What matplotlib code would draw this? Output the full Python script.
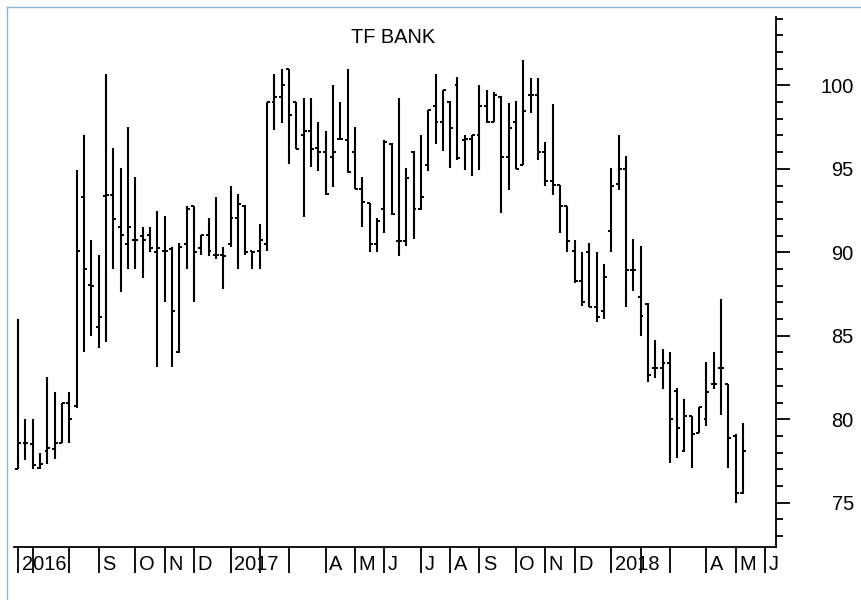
import matplotlib
matplotlib.use('Agg')
import matplotlib.pyplot as plt
from matplotlib.ticker import MultipleLocator
from matplotlib.transforms import blended_transform_factory, ScaledTranslation
from matplotlib.lines import Line2D

plt.rcParams['font.family'] = ['Liberation Sans', 'DejaVu Sans']

title = "TF BANK"

# weekly OHLC, index 0 = mid-June 2016 ... index 99 = mid-May 2018
opens = [77.0, 78.55, 78.5, 77.1, 78.1, 78.2, 78.6, 81.0, 80.8, 93.3,
         88.05, 85.5, 93.4, 93.45, 91.5, 90.5, 90.75, 91.0, 91.05, 90.0,
         90.05, 90.2, 84.0, 90.5, 92.8, 90.25, 91.05, 89.85, 89.85, 90.5,
         92.05, 92.8, 90.05, 90.05, 90.5, 99.0, 99.3, 101.0, 99.0, 97.0,
         97.25, 96.25, 96.0, 95.7, 96.8, 96.75, 96.0, 93.8, 92.95, 90.5,
         92.6, 96.5, 90.7, 90.7, 96.0, 92.6, 95.25, 98.75, 97.8, 99.0,
         100.0, 96.7, 96.8, 97.0, 98.75, 97.8, 99.3, 95.7, 97.8, 95.25,
         99.4, 99.45, 96.0, 94.25, 94.05, 92.8, 90.05, 88.3, 90.0, 86.7,
         86.5, 91.3, 94.1, 95.0, 88.95, 87.3, 86.9, 83.05, 83.05, 83.35,
         81.7, 78.1, 80.2, 79.15, 80.0, 82.1, 83.05, 82.1, 79.0, 75.6]
highs = [86.0, 80.0, 80.0, 78.0, 82.55, 81.65, 81.0, 81.65, 94.95, 97.05,
         90.75, 89.85, 100.7, 96.25, 95.05, 97.5, 94.5, 91.5, 91.5, 92.5,
         92.2, 90.3, 90.55, 92.75, 92.8, 91.05, 92.05, 93.3, 90.3, 93.95,
         93.5, 92.85, 90.05, 91.7, 99.0, 100.7, 101.0, 101.0, 99.0, 99.25,
         99.25, 97.8, 97.25, 100.0, 99.0, 101.0, 97.5, 94.5, 92.95, 92.05,
         96.7, 96.55, 99.25, 95.05, 96.05, 97.05, 98.5, 100.7, 99.7, 99.05,
         100.5, 97.0, 97.05, 100.0, 99.7, 99.6, 99.35, 98.95, 99.05, 101.5,
         100.45, 100.45, 96.6, 98.9, 94.05, 92.8, 90.75, 90.0, 90.55, 90.0,
         89.3, 95.05, 97.05, 95.8, 90.8, 90.4, 86.95, 84.75, 84.2, 84.0,
         81.85, 81.2, 80.2, 80.75, 83.45, 84.0, 87.2, 82.1, 79.1, 79.8]
lows = [77.0, 77.55, 77.0, 77.0, 77.3, 77.6, 78.55, 78.6, 80.7, 84.0,
        85.0, 84.25, 84.6, 89.0, 87.6, 89.0, 89.0, 88.45, 90.0, 83.15,
        87.0, 83.15, 83.95, 89.0, 87.0, 89.85, 89.75, 89.6, 87.8, 90.3,
        89.0, 89.85, 89.0, 89.0, 90.1, 97.3, 97.75, 95.3, 96.2, 92.1,
        95.1, 94.85, 93.45, 93.9, 96.75, 94.75, 93.8, 91.5, 90.0, 90.0,
        91.15, 92.25, 89.75, 90.35, 90.8, 92.55, 94.9, 96.5, 96.05, 95.05,
        95.55, 94.95, 94.55, 94.95, 97.75, 97.8, 92.35, 93.75, 95.0, 95.25,
        98.35, 95.55, 94.0, 93.45, 91.15, 90.0, 88.15, 86.8, 86.7, 85.8,
        86.0, 90.0, 93.75, 86.7, 87.7, 85.0, 82.25, 82.45, 81.8, 77.4,
        77.7, 78.05, 77.05, 79.15, 79.6, 81.8, 80.25, 77.05, 74.95, 75.5]
closes = [78.55, 78.55, 77.25, 77.3, 78.3, 78.6, 81.0, 80.0, 90.05, 89.0,
          88.0, 86.1, 93.45, 92.0, 91.05, 91.5, 90.75, 90.75, 90.25, 90.25,
          90.05, 86.5, 90.3, 92.6, 90.0, 91.05, 90.05, 89.85, 89.8, 92.05,
          92.9, 90.0, 90.0, 90.75, 99.0, 99.3, 100.0, 98.25, 96.2, 97.25,
          96.2, 96.0, 93.5, 96.0, 96.8, 94.8, 93.8, 93.0, 90.5, 91.9,
          96.6, 92.3, 90.7, 94.45, 92.6, 93.3, 98.5, 97.8, 99.7, 97.45,
          95.65, 96.8, 97.0, 98.75, 97.8, 99.4, 95.7, 97.45, 95.0, 98.45,
          99.4, 96.0, 94.25, 94.05, 92.8, 90.7, 88.3, 87.0, 86.7, 86.1,
          88.5, 94.0, 95.0, 88.95, 88.95, 86.2, 82.65, 83.05, 83.35, 80.0,
          79.45, 80.2, 79.1, 80.75, 81.65, 82.1, 83.05, 78.9, 75.6, 78.1]

# first weekly bar of each month and its label
month_starts = [0, 2, 7, 11, 16, 20, 24, 29, 33, 37, 42, 46, 50, 55, 59,
                63, 68, 72, 76, 81, 85, 89, 94, 98, 102]
month_labels = ['2016', '', '', 'S', 'O', 'N', 'D', '2017', '', '', 'A', 'M',
                'J', 'J', 'A', 'S', 'O', 'N', 'D', '2018', '', '', 'A', 'M', 'J']
y_major = [75, 80, 85, 90, 95, 100]

W, H = 861, 600
fig = plt.figure(figsize=(W / 100, H / 100), dpi=100)
fig.patch.set_facecolor('white')
ax = fig.add_axes([14 / W, (H - 546.7) / H, (776 - 14) / W, (546.7 - 17) / H])

xs = list(range(len(opens)))
tick_w = 0.4
ax.vlines(xs, lows, highs, colors='black', lw=1.5, capstyle='butt')
ax.hlines(opens, [x - tick_w for x in xs], xs, colors='black', lw=1.4)
ax.hlines(closes, xs, [x + tick_w for x in xs], colors='black', lw=1.4)

ax.set_xlim(-0.57, 103.5)
ax.set_ylim(72.36, 104.1)

for s in ['left', 'top']:
    ax.spines[s].set_visible(False)
for s in ['right', 'bottom']:
    ax.spines[s].set_linewidth(1.3)
    ax.spines[s].set_color('black')

ax.yaxis.tick_right()
ax.set_yticks(y_major)
ax.set_yticklabels([str(v) for v in y_major])
ax.yaxis.set_minor_locator(MultipleLocator(1))
ax.tick_params(axis='y', which='major', length=10, width=1.3, pad=46,
               labelsize=14.4, colors='black')
ax.tick_params(axis='y', which='minor', length=5, width=1.3)
plt.setp(ax.get_yticklabels(), ha='right')

ax.set_xticks(month_starts)
ax.set_xticklabels([])
ax.tick_params(axis='x', which='major', length=19, width=1.3, direction='out')

trans = blended_transform_factory(ax.transData, ax.transAxes) + \
    ScaledTranslation(3.4 / 100, -23.3 / 100, fig.dpi_scale_trans)
for k, lab in zip(month_starts, month_labels):
    if lab:
        ax.text(k, 0, lab, transform=trans, ha='left', va='baseline',
                fontsize=14.4, color='black')

fig.text(393 / W, 1 - 42.7 / H, title, ha='center', va='baseline',
         fontsize=14.4, color='black')

border = '#8fb3d9'
fig.add_artist(Line2D([7 / W, 7 / W], [0, 1 - 7 / H], transform=fig.transFigure,
                      color=border, lw=1.0))
fig.add_artist(Line2D([7 / W, 1], [1 - 7 / H, 1 - 7 / H], transform=fig.transFigure,
                      color=border, lw=1.0))

fig.savefig('out.png', dpi=100)
